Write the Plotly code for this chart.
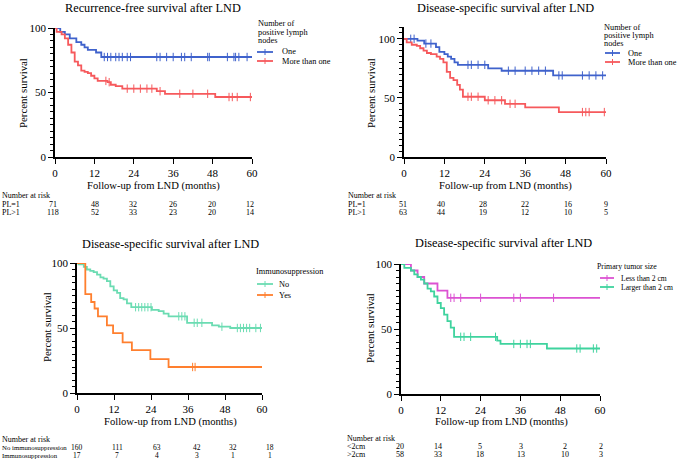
import plotly.graph_objects as go

W, H = 677, 459
FONT = "Liberation Serif"

# ---------------- data ----------------
months_ticks = [0, 12, 24, 36, 48, 60]

# Panel 1: Recurrence-free survival, positive lymph nodes
p1_one_t = [0, 1.6, 3, 4.5, 6.5, 8, 9, 10, 12.5, 14.1]
p1_one_s = [100, 97, 95, 92, 89, 87, 85, 83, 81, 77.5]
p1_one_c = [15, 16, 17, 18.5, 19.5, 20.5, 22, 23, 31, 32, 34, 36, 38.5, 39.5, 41.5, 46.5, 47, 52.5, 54.5, 55, 56, 58.5]
p1_more_t = [0, 0.5, 2, 3, 4, 5, 6, 7, 8, 9, 10, 11, 12, 13, 16, 17, 18.5, 20.5, 31, 33.5, 48.8]
p1_more_s = [100, 97, 95, 92, 87, 81, 74, 71, 67, 66, 65, 63, 61, 59, 58, 56, 55, 53, 51, 49, 46.5]
p1_more_c = [15.5, 16.5, 22, 24, 26, 28, 29.5, 32, 38, 42, 46.5, 53, 54, 55.5, 59.5]
p1_risk_labels = ["PL=1", "PL>1"]
p1_risk = [[71, 48, 32, 26, 20, 12], [118, 52, 33, 23, 20, 14]]

# Panel 2: Disease-specific survival, positive lymph nodes
p2_one_t = [0, 4, 6, 9.5, 10.5, 12, 13, 14, 15, 16, 25, 29, 44.3]
p2_one_s = [100, 98.5, 96, 93, 89, 87, 85, 83, 80, 78, 75, 73, 69]
p2_one_c = [2, 3, 6.5, 8, 19, 20, 22, 24, 31, 33, 36, 38, 40, 42, 46, 47, 53, 55, 57, 59]
p2_more_t = [0, 0.8, 2.3, 3.8, 4.8, 5.8, 6.8, 8, 9.7, 10.7, 11.7, 12.7, 13.7, 14.7, 15.8, 16.6, 17.5, 24, 30, 36, 46]
p2_more_s = [100, 97, 95, 94, 92, 90, 88, 87, 85, 83, 80, 72, 67, 65, 61, 57, 51, 48, 45, 42, 38]
p2_more_c = [19, 20, 22, 25, 27, 29, 31.5, 33, 53, 54, 55, 59.5]
p2_risk_labels = ["PL=1", "PL>1"]
p2_risk = [[51, 40, 28, 22, 16, 9], [63, 44, 19, 12, 10, 5]]

# Panel 3: Disease-specific survival, immunosuppression
p3_no_t = [0, 0.5, 2.2, 3.2, 4.3, 5.4, 6.5, 7.6, 8.6, 9.7, 10.8, 11.9, 13, 14, 15.1, 16.2, 17.6, 24.3, 26.5, 28.1, 29.7, 35.7, 43.8, 46, 49.7]
p3_no_s = [100, 99, 97, 95, 94, 93, 91, 89, 88, 86, 82, 79, 77, 73, 72, 69, 66, 64, 63, 61, 59, 54, 52, 51, 50]
p3_no_c = [19, 20, 21, 22, 23, 24, 33, 34, 35, 38, 39, 40.5, 47, 52, 53, 54, 55, 56, 58, 59.5]
p3_yes_t = [0, 2.7, 4.6, 5.7, 6.8, 9.7, 11.7, 14.8, 17.8, 23.8, 29.7]
p3_yes_s = [100, 76, 70, 65, 59, 52, 46, 39, 33, 26, 20]
p3_yes_c = [37.5, 38.3]
p3_risk_labels = ["No immunosuppression", "Immunosuppression"]
p3_risk = [[160, 111, 63, 42, 32, 18], [17, 7, 4, 3, 1, 1]]

# Panel 4: Disease-specific survival, primary tumor size
p4_small_t = [0, 3, 5, 7, 11, 14]
p4_small_s = [100, 95, 90, 85, 79.5, 74]
p4_small_c = [15, 16, 18, 24, 34, 36, 46]
p4_large_t = [0, 1, 3, 4, 5, 6, 7, 8, 9, 10, 11, 12, 13, 14, 15, 16, 29, 30, 44]
p4_large_s = [100, 97, 95, 92, 90, 88, 85, 81, 79, 75, 70, 66, 61, 56, 51, 44, 41, 38.5, 35]
p4_large_c = [18, 19, 21, 28.5, 34, 36, 38, 39, 53, 54, 58, 59]
p4_risk_labels = ["<2cm", ">2cm"]
p4_risk = [[20, 14, 5, 3, 2, 2], [58, 33, 18, 13, 10, 3]]

BLUE = "#3f62cc"
RED = "#f6595c"
MINT = "#6bdcb2"
ORANGE = "#ff7f2e"
MAGENTA = "#dc52d2"
GREEN = "#3fd39e"

# ---------------- helpers ----------------
def px(x):
    return x / W

def py(y):
    return 1 - y / H

def surv_at(ts, ss, t):
    v = ss[0]
    for ti, si in zip(ts, ss):
        if ti <= t:
            v = si
    return v

fig = go.Figure()

def add_curve(ax, ts, ss, cs, color):
    xa, ya = ("x", "y") if ax == 1 else (f"x{ax}", f"y{ax}")
    fig.add_trace(go.Scatter(x=ts + [60], y=ss + [ss[-1]], mode="lines",
                             line=dict(color=color, width=1.8, shape="hv"),
                             xaxis=xa, yaxis=ya, showlegend=False, hoverinfo="skip"))
    fig.add_trace(go.Scatter(x=cs, y=[surv_at(ts, ss, c) for c in cs], mode="markers",
                             marker=dict(symbol="line-ns", size=6, line=dict(color=color, width=1)),
                             xaxis=xa, yaxis=ya, showlegend=False, hoverinfo="skip"))

add_curve(1, p1_one_t, p1_one_s, p1_one_c, BLUE)
add_curve(1, p1_more_t, p1_more_s, p1_more_c, RED)
add_curve(2, p2_one_t, p2_one_s, p2_one_c, BLUE)
add_curve(2, p2_more_t, p2_more_s, p2_more_c, RED)
add_curve(3, p3_no_t, p3_no_s, p3_no_c, MINT)
add_curve(3, p3_yes_t, p3_yes_s, p3_yes_c, ORANGE)
add_curve(4, p4_small_t, p4_small_s, p4_small_c, MAGENTA)
add_curve(4, p4_large_t, p4_large_s, p4_large_c, GREEN)

# panel geometry (pixels): x0, x1, ytop, ybottom, ymax
panels = {
    1: (55, 252, 28, 157, 100),
    2: (404, 606, 27, 157, 110),
    3: (77, 262, 263, 393, 100),
    4: (401, 600, 264, 394, 100),
}

layout = dict(template="none", width=W, height=H, autosize=False,
              margin=dict(l=0, r=0, t=0, b=0, pad=0, autoexpand=False),
              paper_bgcolor="white", plot_bgcolor="white",
              font=dict(family=FONT, color="black"))
for k, (x0, x1, yt, yb, ymax) in panels.items():
    sx = "xaxis" if k == 1 else f"xaxis{k}"
    sy = "yaxis" if k == 1 else f"yaxis{k}"
    ya = "y" if k == 1 else f"y{k}"
    xa = "x" if k == 1 else f"x{k}"
    layout[sx] = dict(domain=[px(x0), px(x1)], anchor=ya, range=[0, 60], automargin=False,
                      tickvals=months_ticks, ticks="outside", ticklen=5, tickwidth=1.3, tickcolor="black",
                      showline=True, linewidth=1.6, linecolor="black", showgrid=False,
                      zeroline=False, tickfont=dict(size=11, family=FONT, color="black"))
    layout[sy] = dict(domain=[py(yb), py(yt)], anchor=xa, range=[0, ymax], automargin=False,
                      tickvals=[0, 50, 100], ticks="outside", ticklen=5, tickwidth=1.3, tickcolor="black",
                      showline=True, linewidth=1.6, linecolor="black", showgrid=False,
                      zeroline=False, tickfont=dict(size=11, family=FONT, color="black"),
                      minor=dict(dtick=5, tick0=0, ticks="outside", ticklen=3, tickwidth=1, tickcolor="black",
                                 showgrid=False))
fig.update_layout(**layout)

ann = []
def text(x, y, s, size, xanchor="left", yanchor="middle", **kw):
    ann.append(dict(x=px(x), y=py(y), xref="paper", yref="paper", text=s, showarrow=False,
                    xanchor=xanchor, yanchor=yanchor, borderpad=0,
                    font=dict(size=size, family=FONT, color="black"), **kw))

# titles
TTL = 12.3
text(153, 8, "Recurrence-free survival after LND", TTL, "center")
text(505, 8, "Disease-specific survival after LND", TTL, "center")
text(170, 244, "Disease-specific survival after LND", TTL, "center")
text(503, 243, "Disease-specific survival after LND", TTL, "center")

# axis titles
for (cx, cy) in [(153, 186), (505, 186), (170, 422), (501, 422)]:
    text(cx, cy, "Follow-up from LND (months)", 10.6, "center")
for (cx, cy) in [(23, 93), (371, 93), (47, 327), (370, 328)]:
    text(cx, cy, "Percent survival", 10.8, "center", textangle=-90)

# legends (manual)
LEG = 8.3
shapes = []
def legend_item(x0, x1, y, color, label, tx, size=LEG):
    shapes.append(dict(type="line", xref="paper", yref="paper", x0=px(x0), x1=px(x1), y0=py(y), y1=py(y),
                       line=dict(color=color, width=1.8)))
    xm = (x0 + x1) / 2
    shapes.append(dict(type="line", xref="paper", yref="paper", x0=px(xm), x1=px(xm), y0=py(y - 3), y1=py(y + 3),
                       line=dict(color=color, width=1)))
    text(tx, y, label, size)

for i, line in enumerate(["Number of", "positive lymph", "nodes"]):
    text(257, 23 + 9 * i, line, LEG)
    text(603, 27 + 8.5 * i, line, LEG)
legend_item(257, 273, 52, BLUE, "One", 281)
legend_item(257, 273, 61, RED, "More than one", 281)
legend_item(605, 620, 53, BLUE, "One", 627)
legend_item(605, 620, 62, RED, "More than one", 627)

text(255, 271, "Immunosuppression", LEG)
legend_item(257, 273, 284, MINT, "No", 278)
legend_item(257, 273, 295, ORANGE, "Yes", 278)

text(596, 266, "Primary tumor size", 7.8)
legend_item(600, 614, 278, MAGENTA, "Less than 2 cm", 620, 7.6)
legend_item(600, 614, 287, GREEN, "Larger than 2 cm", 620, 7.6)

# risk tables
RSK = 8
def risk_table(ax, lx, ytitle, yrows, labels, rows, shifts, lsize=RSK, nsize=RSK):
    xa = "x" if ax == 1 else f"x{ax}"
    text(lx, ytitle, "Number at risk", RSK)
    for lab, vals, yr in zip(labels, rows, yrows):
        text(lx, yr, lab, lsize)
        for i, (t, v) in enumerate(zip(months_ticks, vals)):
            ann.append(dict(x=t, y=py(yr), xref=xa, yref="paper", text=str(v), showarrow=False,
                            xanchor="center", yanchor="middle", xshift=shifts[i], borderpad=0,
                            font=dict(size=nsize, family=FONT, color="black")))

risk_table(1, 1, 195, [204, 212], p1_risk_labels, p1_risk, [-2, 1, -1, 0, -1, -2])
risk_table(2, 347, 195, [204, 212], p2_risk_labels, p2_risk, [-1, -3, -2, 0, 2, 0])
risk_table(3, 1, 439, [447, 455], p3_risk_labels, p3_risk, [0, 3, 6, 9, 8, 8], lsize=6.8, nsize=7.5)
risk_table(4, 346, 438, [446, 454], p4_risk_labels, p4_risk, [-1, -3, -1, 1, 5, 1])

fig.update_layout(annotations=ann, shapes=shapes)
fig.write_html("out.html", config={"displayModeBar": False},
               post_script="document.body.style.margin='0';document.body.style.padding='0';")
